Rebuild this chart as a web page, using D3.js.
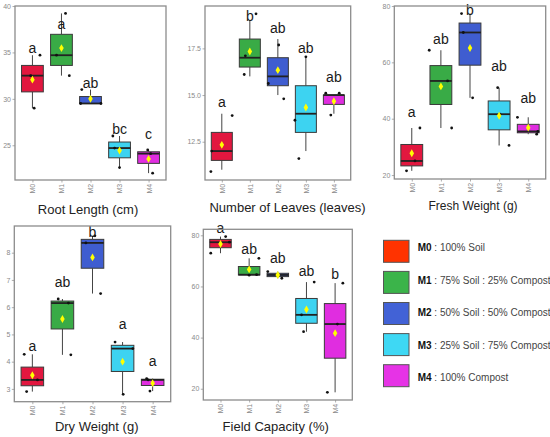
<!DOCTYPE html>
<html><head><meta charset="utf-8">
<script src="https://cdn.jsdelivr.net/npm/d3@7"></script>
<style>body{margin:0;background:#fff} svg{display:block;font-family:"Liberation Sans",Arial,sans-serif}</style>
</head><body><svg id="c" width="550" height="437"></svg>
<script>
const categories = ["M0","M1","M2","M3","M4"];
const treatmentLabels = ["100% Soil","75% Soil : 25% Compost","50% Soil : 50% Compost","25% Soil : 75% Compost","100% Compost"];
const boxColors = ["#e2173f","#39ab46","#3f5dd0","#3dd3f1","#e02de0"];
const legendColors = ["#ff3300","#3bb44a","#4262d6","#3ed8f4","#e633e6"];

// Root Length (cm)
const rootLength = [[34.7,32.5,29.0],[39.2,34.7,32.5],[31.0,29.5,29.5],[26.0,24.7,22.6],[24.5,24.1,22.0]];
const rootJitterX = [[0.26,-0.06,0.06],[0.14,-0.17,0.27],[-0.30,-0.34,0.36],[-0.23,-0.17,0.0],[-0.03,0.07,0.14]];
const rootLetters = ["a","a","ab","bc","c"];
const rootLetterY = [34.99,37.5,31.15,26.2,25.65];
const rootTicks = [25,30,35,40];

// Number of Leaves (leaves)
const leaves = [[11,12,14],[16,17,19],[15,16,18],[12,14,17],[14,15,15]];
const leavesJitterX = [[-0.39,-0.36,0.37],[-0.20,-0.16,0.22],[0.21,-0.34,0.03],[-0.25,-0.39,0.0],[-0.11,-0.29,0.19]];
const leavesJitterY = [[-0.1,0,-0.1],[0.1,0.1,0.35],[-0.2,-0.38,-0.32],[-0.4,-0.35,0.05],[-0.07,0.1,0.1]];
const leavesLetters = ["a","b","ab","ab","ab"];
const leavesLetterY = [14.34,18.98,18.3,17.23,15.68];
const leavesTicks = [12.5,15.0,17.5];

// Fresh Weight (g)
const fresh = [[21.5,25.0,36.7],[64.3,53.4,36.7],[77.3,70.6,47.4],[51.0,41.6,30.5],[40.5,34.5,35.5]];
const freshJitterX = [[-0.18,0.11,0.28],[-0.40,0.23,0.37],[-0.29,-0.23,0.09],[-0.05,0.03,0.34],[-0.37,0.29,0.33]];
const freshLetters = ["a","ab","b","ab","ab"];
const freshLetterY = [40.7,66.4,76.7,56.9,45.7];
const freshTicks = [20,40,60,80];

// Dry Weight (g)
const dry = [[4.27,2.9,3.33],[6.3,6.15,4.25],[8.36,8.62,6.5],[4.72,4.48,2.8],[3.38,2.92,3.33]];
const dryJitterX = [[-0.27,-0.19,0.17],[-0.14,0.20,0.28],[-0.22,0.08,0.27],[-0.25,0.34,0.02],[-0.20,-0.09,-0.15]];
const dryLetters = ["a","ab","b","a","a"];
const dryLetterY = [4.4,6.75,8.57,5.2,3.85];
const dryTicks = [3,4,5,6,7,8];

// Field Capacity (%)
const field = [[73.0,79.5,77.3],[71.0,64.4,64.6],[65.8,63.2,64.5],[61.7,48.9,42.3],[61.3,45.3,18.6]];
const fieldJitterX = [[-0.34,0.18,0.31],[0.34,0.0,0.26],[-0.35,0.14,0.0],[0.27,-0.17,-0.10],[0.27,0.08,-0.27]];
const fieldLetters = ["a","ab","ab","ab","b"];
const fieldLetterY = [81.0,72.6,69.3,64.1,62.8];
const fieldTicks = [20,40,60,80];

const panels = [
  {values: rootLength, jx: rootJitterX, jy: null, letters: rootLetters, letterY: rootLetterY, ticks: rootTicks, fmt: d3.format("d"),
   title: "Root Length (cm)", x0: 15, x1: 166, y0: 6, y1: 180, domain: [21.26, 40.0], titleSize: 13, titleY: 213.5, titleX: 88},
  {values: leaves, jx: leavesJitterX, jy: leavesJitterY, letters: leavesLetters, letterY: leavesLetterY, ticks: leavesTicks, fmt: d3.format(".1f"),
   title: "Number of Leaves (leaves)", x0: 205, x1: 350.7, y0: 6, y1: 180, domain: [10.45, 19.77], titleSize: 13, titleY: 211.5, titleX: 287.5},
  {values: fresh, jx: freshJitterX, jy: null, letters: freshLetters, letterY: freshLetterY, ticks: freshTicks, fmt: d3.format("d"),
   title: "Fresh Weight (g)", x0: 394.3, x1: 545.7, y0: 6, y1: 179, domain: [18.6, 80.0], titleSize: 12, titleY: 210, titleX: 473},
  {values: dry, jx: dryJitterX, jy: null, letters: dryLetters, letterY: dryLetterY, ticks: dryTicks, fmt: d3.format("d"),
   title: "Dry Weight (g)", x0: 14.3, x1: 170.7, y0: 226, y1: 401.7, domain: [2.53, 8.98], titleSize: 13, titleY: 431, titleX: 96.7},
  {values: field, jx: fieldJitterX, jy: null, letters: fieldLetters, letterY: fieldLetterY, ticks: fieldTicks, fmt: d3.format("d"),
   title: "Field Capacity (%)", x0: 203.3, x1: 352.3, y0: 229.3, y1: 400, domain: [15.6, 82.35], titleSize: 13, titleY: 431, titleX: 275.7}
];

const svg = d3.select("#c");

panels.forEach(p => {
  const x = d3.scalePoint().domain(categories).range([p.x0, p.x1]).padding(0.6);
  const y = d3.scaleLinear().domain(p.domain).range([p.y1, p.y0]);
  const bw = x.step() * 0.75;
  const g = svg.append("g");

  const ya = g.append("g").attr("transform", `translate(${p.x0},0)`)
    .call(d3.axisLeft(y).tickValues(p.ticks).tickFormat(p.fmt).tickSize(2.5).tickPadding(1.5));
  ya.select(".domain").remove();
  ya.selectAll("line").attr("stroke", "#999").attr("stroke-width", 0.8);
  ya.selectAll("text").attr("fill", "#8a8a8a").style("font-size", "7px");

  const xa = g.append("g").attr("transform", `translate(0,${p.y1})`)
    .call(d3.axisBottom(x).tickSize(2.5));
  xa.select(".domain").remove();
  xa.selectAll("line").attr("stroke", "#999").attr("stroke-width", 0.8);
  xa.selectAll("text").attr("fill", "#8a8a8a").style("font-size", "7px")
    .attr("y", 0).attr("x", -3.8).attr("dy", "0.35em")
    .attr("transform", "rotate(-90)").style("text-anchor", "end");

  categories.forEach((c, i) => {
    const vals = p.values[i];
    const q1 = d3.quantile(vals, 0.25), med = d3.quantile(vals, 0.5), q3 = d3.quantile(vals, 0.75);
    const lo = d3.min(vals), hi = d3.max(vals), mean = d3.mean(vals);
    const cx = x(c);
    g.append("line").attr("x1", cx).attr("x2", cx).attr("y1", y(q3)).attr("y2", y(hi))
      .attr("stroke", "#444").attr("stroke-width", 1);
    g.append("line").attr("x1", cx).attr("x2", cx).attr("y1", y(q1)).attr("y2", y(lo))
      .attr("stroke", "#444").attr("stroke-width", 1);
    g.append("rect").attr("x", cx - bw / 2).attr("width", bw)
      .attr("y", y(q3)).attr("height", Math.max(0.5, y(q1) - y(q3)))
      .attr("fill", boxColors[i]).attr("stroke", "#3a3a3a").attr("stroke-width", 1);
    g.append("line").attr("x1", cx - bw / 2).attr("x2", cx + bw / 2).attr("y1", y(med)).attr("y2", y(med))
      .attr("stroke", "#222").attr("stroke-width", 1.8);
    vals.forEach((v, k) => {
      const dx = p.jx[i][k] * x.step();
      const dy = p.jy ? p.jy[i][k] : 0;
      g.append("circle").attr("cx", cx + dx).attr("cy", y(v + dy)).attr("r", 1.4).attr("fill", "#111");
    });
    g.append("path").attr("d", d3.symbol().type(d3.symbolDiamond).size(18)())
      .attr("transform", `translate(${cx},${y(mean)})`).attr("fill", "#ffff00");
    g.append("text").attr("x", cx).attr("y", y(p.letterY[i])).attr("text-anchor", "middle")
      .attr("fill", "#1a1a1a").style("font-size", "14px").text(p.letters[i]);
  });

  g.append("rect").attr("x", p.x0).attr("y", p.y0).attr("width", p.x1 - p.x0).attr("height", p.y1 - p.y0)
    .attr("fill", "none").attr("stroke", "#8c8c8c").attr("stroke-width", 1.3);

  svg.append("text").attr("x", p.titleX).attr("y", p.titleY).attr("text-anchor", "middle")
    .attr("fill", "#222").style("font-size", p.titleSize + "px").text(p.title);
});

const legSq = d3.scaleLinear().domain([0, 4]).range([240.3, 364.7]);
const legTx = d3.scaleLinear().domain([0, 4]).range([251, 381.3]);
categories.forEach((c, i) => {
  svg.append("rect").attr("x", 383.5).attr("y", legSq(i)).attr("width", 25.5).attr("height", 22)
    .attr("fill", legendColors[i]).attr("stroke", "#555").attr("stroke-width", 1);
  const t = svg.append("text").attr("x", 417.7).attr("y", legTx(i)).style("font-size", "10px");
  t.append("tspan").attr("font-weight", "bold").attr("fill", "#111").text(c);
  t.append("tspan").attr("fill", "#444").text(" : " + treatmentLabels[i]);
});
</script>
</body></html>
